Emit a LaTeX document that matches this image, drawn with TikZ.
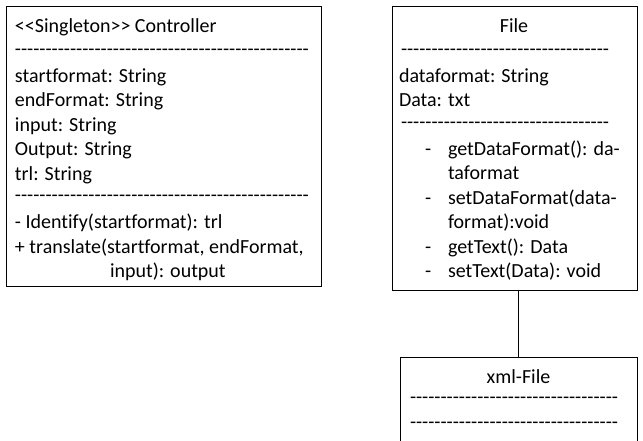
\documentclass[tikz,border=0pt]{standalone}
\usepackage{fontspec}
\setmainfont{Carlito}[Ligatures={TeXOff,CommonOff}]
\newcommand\hyphenrow[1]{\foreach \i in {1,...,#1}{-}}
\begin{document}
\begin{tikzpicture}[x=1pt,y=-1pt,
  every node/.style={inner sep=0pt, outer sep=0pt, font=\fontsize{20}{24.4}\selectfont},
  umlbox/.style={draw, line width=1pt, anchor=north west},
  txt/.style={anchor=base west},
  ctxt/.style={anchor=base},
  hrow/.style={anchor=mid west, yshift=-1.5pt}]
\useasboundingbox (0,0) rectangle (643,441);
\clip (0,0) rectangle (643,441);
% boxes
\node[umlbox, minimum width=315pt, minimum height=279pt] (ctrl) at (6,7) {};
\node[umlbox, minimum width=245pt, minimum height=283pt] (file) at (392,7) {};
\node[umlbox, minimum width=237pt, minimum height=120pt] (xml) at (400,357) {};
\draw[line width=1pt] (xml.north) -- (xml.north |- file.south);
% Controller
\node[txt] (c1) at (15,32.3) {<<Singleton>> Controller};
\node[hrow] (c2) at (15,51.7) {\hyphenrow{48}};
\node[txt] (c3) at (15,82.5) {startformat: String};
\node[txt] (c4) at (15,107) {endFormat: String};
\node[txt] (c5) at (15,131.5) {input: String};
\node[txt] (c6) at (15,156) {Output: String};
\node[txt] (c7) at (15,180.5) {trl: String};
\node[hrow] (c8) at (15,198) {\hyphenrow{48}};
\node[txt] (c9) at (15,228.5) {- Identify(startformat): trl};
\node[txt] (c10) at (15,253) {+ translate(startformat, endFormat,};
\node[txt] (c11) at (110,277.5) {input): output};
% File
\node[ctxt] (f1) at (514,32.3) {File};
\node[hrow] (f2) at (401,51.7) {\hyphenrow{34}};
\node[txt] (f3) at (399,82.5) {dataformat: String};
\node[txt] (f4) at (399,107) {Data: txt};
\node[hrow] (f5) at (401,125) {\hyphenrow{34}};
\node[txt] (b1) at (425,155.5) {-};
\node[txt] (f6) at (448,155.5) {getDataFormat(): da-};
\node[txt] (f7) at (448,180) {taformat};
\node[txt] (b2) at (425,204.5) {-};
\node[txt] (f8) at (448,204.5) {setDataFormat(data-};
\node[txt] (f9) at (448,229) {format):void};
\node[txt] (b3) at (425,253) {-};
\node[txt] (f10) at (448,253) {getText(): Data};
\node[txt] (b4) at (425,277.5) {-};
\node[txt] (f11) at (448,277.5) {setText(Data): void};
% xml-File
\node[ctxt] (x1) at (518.5,383) {xml-File};
\node[hrow] (x2) at (410,400) {\hyphenrow{34}};
\node[hrow] (x3) at (410,424.5) {\hyphenrow{34}};
\end{tikzpicture}
\end{document}
